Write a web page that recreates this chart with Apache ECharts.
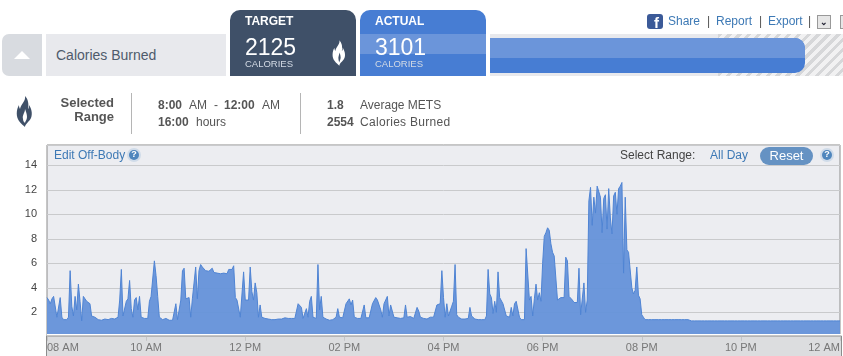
<!DOCTYPE html>
<html>
<head>
<meta charset="utf-8">
<title>Calories Burned</title>
<script src="https://cdn.jsdelivr.net/npm/echarts@6/dist/echarts.min.js"></script>
<style>
  html, body { margin: 0; padding: 0; background: #fff; overflow: hidden; }
  body { width: 843px; height: 356px; position: relative; font-family: "Liberation Sans", Arial, sans-serif; }
  #chart { position: absolute; left: 0; top: 0; width: 843px; height: 356px; }
  .abs { position: absolute; white-space: nowrap; }
  .tab { position: absolute; top: 10px; width: 126px; height: 66px; border-radius: 10px 10px 0 0; color: #fff; overflow: hidden; }
  .tab .ttl { position: absolute; left: 15px; top: 4px; font-size: 12px; font-weight: bold; line-height: 14px; }
  .tab .num { position: absolute; left: 15px; top: 23px; font-size: 23px; line-height: 28px; }
  .tab .cal { position: absolute; left: 15px; top: 48px; font-size: 9.5px; line-height: 11px; color: #d3dae4; }
  .lnk { color: #3d79b5; font-size: 12px; line-height: 14px; }
  .txt { color: #555; font-size: 12px; line-height: 14px; }
  .b { font-weight: bold; }
  .vline { position: absolute; width: 1px; top: 93px; height: 41px; background: #b5b5b5; }
</style>
</head>
<body>
<div id="chart"></div>

<div class="abs" style="left:2px;top:34px;width:40px;height:42px;background:#d8dbe0;border-radius:7px 0 0 7px"></div>
<div class="abs" style="left:14px;top:51px;width:0;height:0;border-left:8px solid transparent;border-right:8px solid transparent;border-bottom:8px solid #fff"></div>
<div class="abs" style="left:46px;top:34px;width:180px;height:42px;background:#e8e9ed"></div>
<div class="abs" style="left:56px;top:47px;font-size:14px;line-height:16px;color:#4f5b6b">Calories Burned</div>

<div class="tab" style="left:230px;background:#3f5068">
  <div class="ttl">TARGET</div><div class="num">2125</div><div class="cal">CALORIES</div>
  <svg class="abs" style="left:102px;top:30px" width="14" height="26" viewBox="0 0 17 31"><path fill="#fff" d="M9 0C10 5 5 8 4 13C3 11 3 10 3 9C0 14 0 21 3 25C5 28 8 30 9 31C9 28 13 26 15 22C17 17 15 12 13 9C13 11 13 12 12 13C13 8 12 3 9 0Z"/><path fill="#3f5068" d="M9 15C9 18 7 20 8 24C8 25 8.500 26 9 27C9 25 10.500 24 10.500 21C10.500 19 10 17 9 15Z"/></svg>
</div>
<div class="tab" style="left:360px;background:#477dd3">
  <div class="abs" style="left:0;top:24px;width:126px;height:20px;background:#6b95da"></div>
  <div class="ttl">ACTUAL</div><div class="num">3101</div><div class="cal">CALORIES</div>
</div>

<div class="abs" style="left:490px;top:34px;width:228px;height:42px;background:#e8e9ed"></div>
<div class="abs" style="left:718px;top:34px;width:125px;height:42px;background:repeating-linear-gradient(135deg,#d6d7d9 0,#d6d7d9 3px,#f1f1f2 3px,#f1f1f2 7px)"></div>
<div class="abs" style="left:490px;top:38px;width:315px;height:35px;border-radius:0 10px 10px 0;overflow:hidden;background:#477dd3">
  <div style="height:20px;background:#6b95da"></div>
</div>

<div class="abs" style="left:647px;top:14px;width:16px;height:15px;background:#3b5a98;border-radius:3px"></div>
<div class="abs b" style="left:654px;top:14px;font-size:15px;line-height:17px;color:#fff">f</div>
<div class="abs lnk" style="left:668px;top:14px">Share</div>
<div class="abs lnk" style="left:707px;top:14px;color:#555">|</div>
<div class="abs lnk" style="left:716px;top:14px">Report</div>
<div class="abs lnk" style="left:759px;top:14px;color:#555">|</div>
<div class="abs lnk" style="left:768px;top:14px">Export</div>
<div class="abs lnk" style="left:808px;top:14px;color:#555">|</div>
<div class="abs" style="left:817px;top:15px;width:12px;height:12px;border:1px solid #999;background:#e6e6e6;text-align:center;font-size:9px;line-height:12px;font-weight:bold;color:#223">&#8964;</div>
<div class="abs" style="left:840px;top:15px;width:12px;height:12px;border:1px solid #999;background:#e6e6e6"></div>

<svg class="abs" style="left:16px;top:96px" width="17" height="31" viewBox="0 0 17 31"><path fill="#3f5068" d="M9 0C10 5 5 8 4 13C3 11 3 10 3 9C0 14 0 21 3 25C5 28 8 30 9 31C9 28 13 26 15 22C17 17 15 12 13 9C13 11 13 12 12 13C13 8 12 3 9 0Z"/><path fill="#fff" d="M9 13C9 17 6 19 7 23C7 25 8 26 9 27C9 25 11 24 11 21C11 18 10 16 9 13Z"/></svg>
<div class="abs txt b" style="right:729px;top:96px;text-align:right;font-size:13px;line-height:14px">Selected<br>Range</div>
<div class="vline" style="left:131px"></div>
<div class="abs txt b" style="left:158px;top:98px">8:00</div>
<div class="abs txt" style="left:189px;top:98px">AM</div>
<div class="abs txt" style="left:214px;top:98px">-</div>
<div class="abs txt b" style="left:224px;top:98px">12:00</div>
<div class="abs txt" style="left:262px;top:98px">AM</div>
<div class="abs txt b" style="left:158px;top:115px">16:00</div>
<div class="abs txt" style="left:196px;top:115px">hours</div>
<div class="vline" style="left:300px"></div>
<div class="abs txt b" style="left:327px;top:98px">1.8</div>
<div class="abs txt" style="left:360px;top:98px">Average METS</div>
<div class="abs txt b" style="left:327px;top:115px">2554</div>
<div class="abs txt" style="left:360px;top:115px;letter-spacing:0.3px">Calories Burned</div>

<script>
// METS, one reading every 2 minutes, one list per hour
var hour08 = [3.2,3.0,2.7,3.1,3.3,3.2,1.6,1.5,3.2,1.6,1.4,1.5,1.4,1.6,5.4,2.5,1.7,3.3,2.2,4.3,2.9,1.3,3.3,3.1,2.9,2.8,2.7,1.7,1.6,1.6];
var hour09 = [1.5,1.4,1.4,1.35,1.4,1.45,1.5,1.4,1.5,1.5,1.5,1.45,1.45,1.6,3.0,5.5,1.7,1.6,2.9,3.1,4.6,2.3,1.6,3.0,3.2,2.2,3.3,1.6,1.6,1.5];
var hour10 = [1.5,1.5,2.9,3.3,3.4,6.2,5.0,3.3,1.6,1.5,1.4,1.35,1.5,1.4,1.35,1.35,1.35,1.4,2.7,1.4,1.5,3.0,5.4,5.6,3.1,3.1,3.2,1.6,3.1,3.0];
var hour11 = [5.7,3.1,5.4,5.9,5.7,5.55,5.4,5.35,5.35,5.3,5.6,5.25,5.2,5.2,5.25,5.15,5.25,5.2,5.3,5.15,5.5,5.6,5.5,5.8,3.2,3.0,2.9,1.6,1.6,5.3];
var hour12 = [3.0,3.0,3.0,5.7,3.7,3.0,4.4,3.6,1.6,2.6,1.6,1.5,1.5,1.45,1.45,1.5,1.4,1.45,1.4,1.4,1.45,1.5,1.45,1.55,1.55,1.45,1.5,1.5,1.5,1.5];
var hour13 = [1.5,1.6,2.7,2.6,2.4,1.5,1.5,2.3,1.6,2.9,3.3,1.6,1.6,1.5,5.9,2.2,3.3,1.6,1.55,1.45,1.4,1.35,1.35,1.4,1.5,1.6,2.3,1.6,1.6,1.55];
var hour14 = [1.5,2.7,2.7,3.1,2.6,3.0,1.6,1.55,1.5,1.55,1.5,1.55,2.6,1.55,1.5,1.55,1.5,2.7,2.7,3.2,3.0,2.9,2.2,1.6,2.7,2.8,3.3,1.7,2.6,2.5];
var hour15 = [1.6,1.5,1.55,1.55,1.5,1.6,1.55,2.6,1.6,1.55,1.65,1.6,1.5,1.5,2.4,2.1,1.6,1.55,1.5,1.5,1.45,1.5,1.6,1.5,1.6,1.6,2.6,2.6,2.7,5.4];
var hour16 = [3.2,1.6,2.7,1.7,1.6,2.5,2.9,5.9,1.8,1.6,1.5,1.45,1.45,1.45,1.5,1.5,2.4,1.7,1.55,1.45,1.45,1.4,1.4,1.4,1.4,1.4,1.7,5.5,3.5,3.2];
var hour17 = [1.9,2.9,2.0,5.3,3.2,3.1,2.7,2.7,1.7,1.6,1.6,2.4,1.7,2.7,2.9,3.0,1.6,1.4,1.4,1.4,7.2,7.1,3.0,3.3,1.7,3.1,4.3,3.0,3.6,2.9];
var hour18 = [6.0,8.2,8.5,8.9,8.7,7.6,6.9,6.6,6.6,3.0,3.1,3.2,3.25,3.2,6.5,6.2,3.3,3.2,3.0,2.8,2.9,2.8,5.6,1.8,1.8,4.4,2.0,3.0,11.1,12.2];
var hour19 = [9.1,11.4,10.1,12.3,12.4,11.4,8.5,11.3,11.6,8.8,12.1,9.7,8.4,11.5,11.8,10.0,12.1,12.3,12.6,5.2,11.4,7.1,6.9,7.0,4.0,3.5,3.8,5.7,3.4,3.1];
var hour20 = [1.8,1.6,1.4,1.4,1.4,1.4,1.4,1.4,1.4,1.4,1.4,1.4,1.4,1.4,1.4,1.4,1.4,1.4,1.4,1.4,1.4,1.4,1.4,1.4,1.4,1.4,1.4,1.4,1.4,1.4];
var hour21 = [1.3,1.3,1.3,1.3,1.3,1.3,1.3,1.3,1.3,1.3,1.3,1.3,1.3,1.3,1.3,1.3,1.3,1.3,1.3,1.3,1.3,1.3,1.3,1.3,1.3,1.3,1.3,1.3,1.3,1.3];
var hour22 = [1.3,1.3,1.3,1.3,1.3,1.3,1.3,1.3,1.3,1.3,1.3,1.3,1.3,1.3,1.3,1.3,1.3,1.3,1.3,1.3,1.3,1.3,1.3,1.3,1.3,1.3,1.3,1.3,1.3,1.3];
var hour23 = [1.3,1.3,1.3,1.3,1.3,1.3,1.3,1.3,1.3,1.3,1.3,1.3,1.3,1.3,1.3,1.3,1.3,1.3,1.3,1.3,1.3,1.3,1.3,1.3,1.3,1.3,1.3,1.3,1.3,1.3,1.3];
var tickLabels = ['08 AM', '10 AM', '12 PM', '02 PM', '04 PM', '06 PM', '08 PM', '10 PM', '12 AM'];

var mets = [].concat(hour08, hour09, hour10, hour11, hour12, hour13, hour14, hour15,
  hour16, hour17, hour18, hour19, hour20, hour21, hour22, hour23);
// a label every 2 hours = every 60 readings
var categories = mets.map(function (v, i) {
  return i % 60 === 0 ? tickLabels[i / 60] : '';
});

function helpIcon(x, y) {
  return [
    { type: 'circle', z: 6, shape: { cx: x, cy: y, r: 7 }, style: { fill: '#cfdbe9' } },
    { type: 'circle', z: 6, shape: { cx: x, cy: y, r: 5 }, style: { fill: '#4f86bd' } },
    { type: 'text', z: 7, x: x, y: y, style: { text: '?', fill: '#fff', font: 'bold 9px "Liberation Sans"', align: 'center', verticalAlign: 'middle' } }
  ];
}

var chart = echarts.init(document.getElementById('chart'));
var option = {
  animation: false,
  grid: {
    show: true,
    left: 47,
    right: 2,
    top: 145,
    bottom: 19.2,
    backgroundColor: '#ecedf1',
    borderColor: '#8c8c8c',
    borderWidth: 1
  },
  xAxis: {
    type: 'category',
    boundaryGap: false,
    data: categories,
    z: 10,
    axisLine: { show: false },
    axisTick: { show: true, interval: 59, inside: false, length: 4, lineStyle: { color: '#c4c5c7' } },
    axisLabel: {
      interval: 59,
      margin: 6,
      color: '#777',
      fontSize: 11,
      fontFamily: 'Liberation Sans',
      alignMinLabel: 'left',
      alignMaxLabel: 'right',
      showMinLabel: true,
      showMaxLabel: true
    }
  },
  yAxis: {
    type: 'value',
    min: 0,
    max: 15.66,
    interval: 2,
    axisLine: { show: false },
    axisTick: { show: false },
    axisLabel: {
      margin: 10,
      color: '#444',
      fontSize: 11,
      fontFamily: 'Liberation Sans',
      showMinLabel: false,
      showMaxLabel: false
    },
    splitLine: { lineStyle: { color: '#c9cacc', width: 1 } }
  },
  series: [
    {
      type: 'line',
      data: mets,
      showSymbol: false,
      sampling: false,
      lineStyle: { color: '#4f84d4', width: 1 },
      areaStyle: { color: '#6592d9', opacity: 0.95 }
    }
  ],
  graphic: [
    { type: 'rect', z: 5, shape: { x: 47, y: 334, width: 794, height: 2 }, style: { fill: '#fff' } },
    { type: 'rect', z: 5, shape: { x: 46.5, y: 336, width: 795, height: 21 }, style: { fill: '#dcdddf', stroke: '#8c8c8c', lineWidth: 1 } },
    { type: 'text', z: 6, x: 54, y: 155.5, style: { text: 'Edit Off-Body', fill: '#3d79b5', font: '12px "Liberation Sans"', verticalAlign: 'middle' } },
    { type: 'text', z: 6, x: 620, y: 155.5, style: { text: 'Select Range:', fill: '#444', font: '12px "Liberation Sans"', verticalAlign: 'middle' } },
    { type: 'text', z: 6, x: 710, y: 155.5, style: { text: 'All Day', fill: '#3d79b5', font: '12px "Liberation Sans"', verticalAlign: 'middle' } },
    { type: 'rect', z: 6, shape: { x: 760, y: 147, width: 53, height: 18, r: 9 }, style: { fill: '#6592c3' } },
    { type: 'text', z: 7, x: 786.5, y: 156, style: { text: 'Reset', fill: '#fff', font: '13px "Liberation Sans"', align: 'center', verticalAlign: 'middle' } }
  ].concat(helpIcon(134, 155), helpIcon(827, 155))
};
chart.setOption(option);
</script>
</body>
</html>
